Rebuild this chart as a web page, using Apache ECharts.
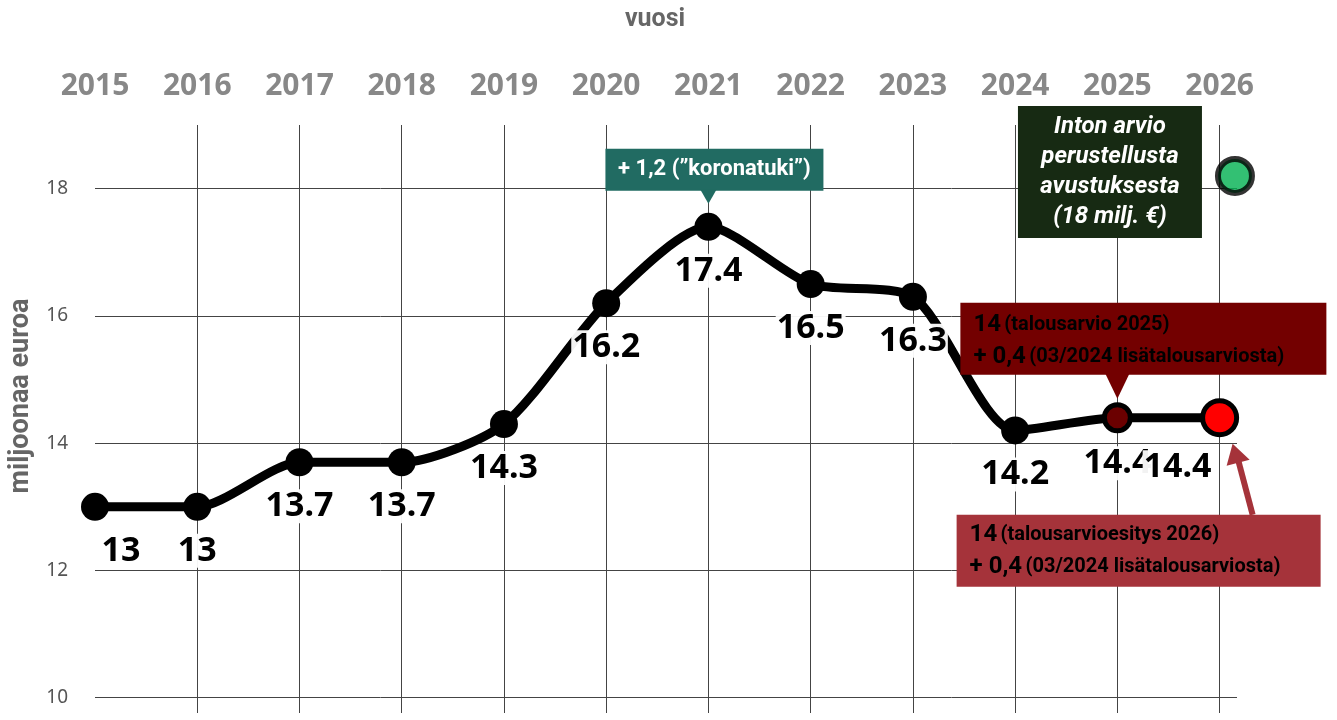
<!DOCTYPE html>
<html lang="fi">

<head>
  <meta charset="utf-8">
  <title>Avustus vuosittain</title>
  <script src="https://cdn.jsdelivr.net/npm/echarts@6/dist/echarts.min.js"></script>
  <style>
    html, body { margin: 0; padding: 0; background: #fff; }
    #main { width: 1337px; height: 720px; }
  </style>
</head>

<body>
  <div id="main"></div>

  <script>
    // data
    var years = [2015, 2016, 2017, 2018, 2019, 2020, 2021, 2022, 2023, 2024, 2025, 2026];
    var amounts = [13, 13, 13.7, 13.7, 14.3, 16.2, 17.4, 16.5, 16.3, 14.2, 14.4, 14.4];
    var estimate = [2026.15, 18.2]; // Inton arvio
    var yTicks = [10, 12, 14, 16, 18];

    var chart = echarts.init(document.getElementById('main'));

    var points = years.map(function (y, i) {
      var item = { value: [y, amounts[i]] };
      if (y === 2015) item.label = { offset: [26, 0] };
      if (y === 2025) {
        item.symbolSize = 26;
        item.itemStyle = { color: '#6b0000', borderColor: '#000', borderWidth: 5 };
      }
      if (y === 2026) {
        item.symbolSize = 34;
        item.itemStyle = { color: '#ff0000', borderColor: '#000', borderWidth: 5 };
        item.label = { offset: [-42, 0] };
      }
      return item;
    });

    var option = {
      animation: false,
      grid: { left: 95, right: 100, top: 125, bottom: 7 },
      xAxis: {
        type: 'value',
        position: 'top',
        min: years[0],
        max: 2026.17,
        interval: 1,
        name: 'vuosi',
        nameLocation: 'middle',
        nameGap: 93,
        nameTextStyle: { fontFamily: 'Roboto', fontWeight: 'bold', fontSize: 25, color: '#666', padding: [0, 22, 0, 0] },
        axisLine: { show: false },
        axisTick: { show: false },
        axisLabel: {
          showMaxLabel: false,
          margin: 24,
          fontFamily: 'Noto Sans', fontWeight: 'bold', fontSize: 30, color: '#888',
          formatter: function (v) { return v % 1 === 0 ? String(v) : ''; }
        },
        splitLine: { show: true, showMinLine: false, showMaxLine: false, lineStyle: { color: '#444', width: 1 } }
      },
      yAxis: {
        type: 'value',
        min: 9.76,
        max: 19,
        axisLine: { show: false },
        axisTick: { show: false, customValues: yTicks },
        axisLabel: {
          customValues: yTicks,
          margin: 27,
          fontFamily: 'Noto Sans', fontSize: 19, color: '#555'
        },
        splitLine: { show: true, lineStyle: { color: '#444', width: 1 } }
      },
      series: [{
        type: 'line',
        data: points,
        smooth: 0.25,
        symbol: 'circle',
        symbolSize: 28,
        lineStyle: { color: '#000', width: 9 },
        itemStyle: { color: '#000' },
        z: 3,
        label: {
          show: true,
          position: 'bottom',
          distance: 13,
          formatter: function (p) { return p.value[1]; },
          fontFamily: 'Noto Sans', fontWeight: 'bold', fontSize: 34, color: '#000',
          backgroundColor: 'rgba(255,255,255,0.95)',
          padding: [0, 1]
        }
      }, {
        type: 'scatter',
        data: [estimate],
        symbolSize: 34,
        itemStyle: { color: '#00b050', borderColor: '#000', borderWidth: 6 },
        z: 4
      }]
    };

    chart.setOption(option);

    // callouts anchored to the data points
    var pPeak = chart.convertToPixel({ gridIndex: 0 }, [2021, amounts[6]]);
    var p25 = chart.convertToPixel({ gridIndex: 0 }, [2025, amounts[10]]);
    var p26 = chart.convertToPixel({ gridIndex: 0 }, [2026, amounts[11]]);
    var pEst = chart.convertToPixel({ gridIndex: 0 }, estimate);

    var boxText = { fontFamily: 'Roboto', fontWeight: 'bold', fill: '#fff' };
    var rich = {
      a: { fontFamily: 'Roboto', fontWeight: 'bold', fontSize: 24, color: '#fff', lineHeight: 32 },
      b: { fontFamily: 'Roboto', fontWeight: 'bold', fontSize: 20, color: '#fff', lineHeight: 32 }
    };

    chart.setOption({
      graphic: [
        // y axis name
        {
          type: 'text', x: 21, y: 396, rotation: Math.PI / 2, z: 100,
          style: { text: 'miljoonaa euroa', align: 'center', verticalAlign: 'middle', fontFamily: 'Roboto', fontWeight: 'bold', fontSize: 27, fill: '#666' }
        },
        // koronatuki
        {
          type: 'rect', z: 100,
          shape: { x: pPeak[0] - 103, y: pPeak[1] - 78, width: 218, height: 42 },
          style: { fill: '#216b62' }
        },
        {
          type: 'polygon', z: 100,
          shape: { points: [[pPeak[0] - 8, pPeak[1] - 37], [pPeak[0] + 8, pPeak[1] - 37], [pPeak[0], pPeak[1] - 23]] },
          style: { fill: '#216b62' }
        },
        {
          type: 'text', z: 101, x: pPeak[0] + 6, y: pPeak[1] - 57,
          style: Object.assign({ text: '+ 1,2 (”koronatuki”)', fontSize: 22, align: 'center', verticalAlign: 'middle' }, boxText)
        },
        // Inton arvio
        {
          type: 'rect', z: 100,
          shape: { x: pEst[0] - 217, y: pEst[1] - 70, width: 184, height: 132 },
          style: { fill: '#172a13' }
        },
        {
          type: 'text', z: 101, x: pEst[0] - 125, y: pEst[1] - 4,
          style: Object.assign({
            text: 'Inton arvio\nperustellusta\navustuksesta\n(18 milj. €)',
            fontSize: 24, fontStyle: 'italic', lineHeight: 30, align: 'center', verticalAlign: 'middle'
          }, boxText)
        },
        // talousarvio 2025
        {
          type: 'rect', z: 100,
          shape: { x: p25[0] - 157, y: p25[1] - 115, width: 366, height: 72 },
          style: { fill: '#730000' }
        },
        {
          type: 'polygon', z: 100,
          shape: { points: [[p25[0] - 12, p25[1] - 44], [p25[0] + 12, p25[1] - 44], [p25[0], p25[1] - 19]] },
          style: { fill: '#730000' }
        },
        {
          type: 'text', z: 101, x: p25[0] - 144, y: p25[1] - 77,
          style: {
            text: '{a|14} {b|(talousarvio 2025)}\n{a|+ 0,4} {b|(03/2024 lisätalousarviosta)}',
            rich: rich, verticalAlign: 'middle', align: 'left'
          }
        },
        // talousarvioesitys 2026
        {
          type: 'rect', z: 100,
          shape: { x: p26[0] - 263, y: p26[1] + 97, width: 364, height: 72 },
          style: { fill: '#a5333a' }
        },
        {
          type: 'line', z: 100,
          shape: { x1: p26[0] + 33, y1: p26[1] + 97, x2: p26[0] + 19, y2: p26[1] + 44 },
          style: { stroke: '#a5333a', lineWidth: 6 }
        },
        {
          type: 'polygon', z: 100,
          shape: { points: [[p26[0] + 13, p26[1] + 26], [p26[0] + 30, p26[1] + 42], [p26[0] + 7, p26[1] + 48]] },
          style: { fill: '#a5333a' }
        },
        {
          type: 'text', z: 101, x: p26[0] - 250, y: p26[1] + 133,
          style: {
            text: '{a|14} {b|(talousarvioesitys 2026)}\n{a|+ 0,4} {b|(03/2024 lisätalousarviosta)}',
            rich: rich, verticalAlign: 'middle', align: 'left'
          }
        }
      ]
    });
  </script>
</body>

</html>
